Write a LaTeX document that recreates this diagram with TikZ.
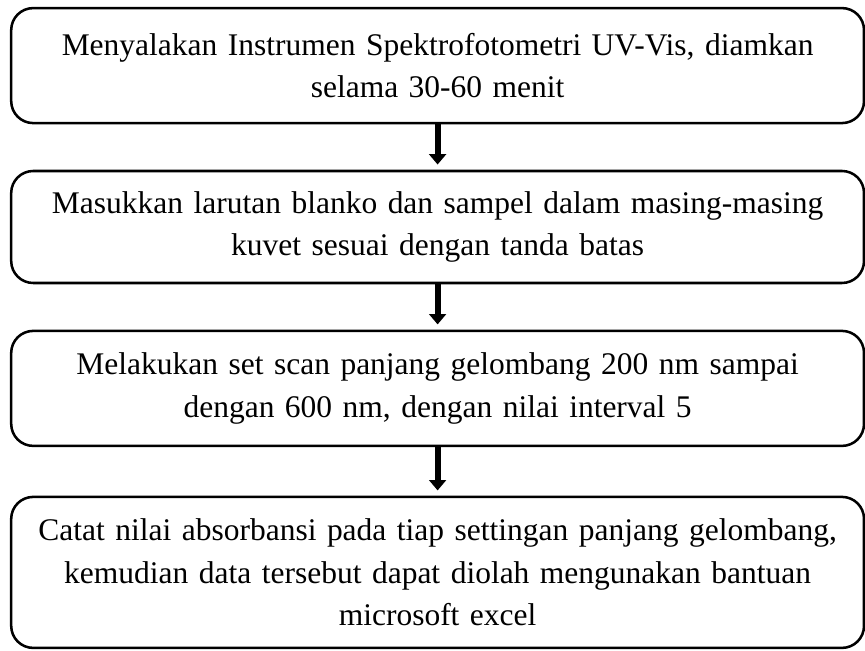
\documentclass[tikz,border=0pt]{standalone}
\usepackage{fontspec}
\setmainfont{Liberation Serif}
\usepackage{tikz}
\usetikzlibrary{arrows.meta, positioning}

\begin{document}
\begin{tikzpicture}[
  stepbox/.style={draw, line width=1.8pt, rounded corners=0.55cm,
    text width=20.8cm, inner xsep=0.26cm, inner ysep=0pt, align=center,
    font=\fontsize{22.4pt}{30pt}\selectfont},
  flowarrow/.style={line width=4.2pt, -{Triangle[width=0.42cm,length=0.26cm]},
    shorten >=0.13cm}
]
  \useasboundingbox (0,0) rectangle (21.625,16.25);

  \node[stepbox, minimum height=2.875cm] (nyala) at (10.94,14.61)
    {Menyalakan Instrumen Spektrofotometri UV-Vis, diamkan\\ selama 30-60 menit};
  \node[stepbox, minimum height=2.8cm] (kuvet) at (10.94,10.575)
    {Masukkan larutan blanko dan sampel dalam masing-masing\\ kuvet sesuai dengan tanda batas};
  \node[stepbox, minimum height=2.875cm] (scan) at (10.94,6.54)
    {Melakukan set scan panjang gelombang 200 nm sampai\\ dengan 600 nm, dengan nilai interval 5};
  \node[stepbox, minimum height=3.775cm] (catat) at (10.94,1.94)
    {Catat nilai absorbansi pada tiap settingan panjang gelombang,\\ kemudian data tersebut dapat diolah mengunakan bantuan\\ microsoft excel};

  \draw[flowarrow] (nyala) -- (kuvet);
  \draw[flowarrow] (kuvet) -- (scan);
  \draw[flowarrow] (scan) -- (catat);
\end{tikzpicture}
\end{document}
